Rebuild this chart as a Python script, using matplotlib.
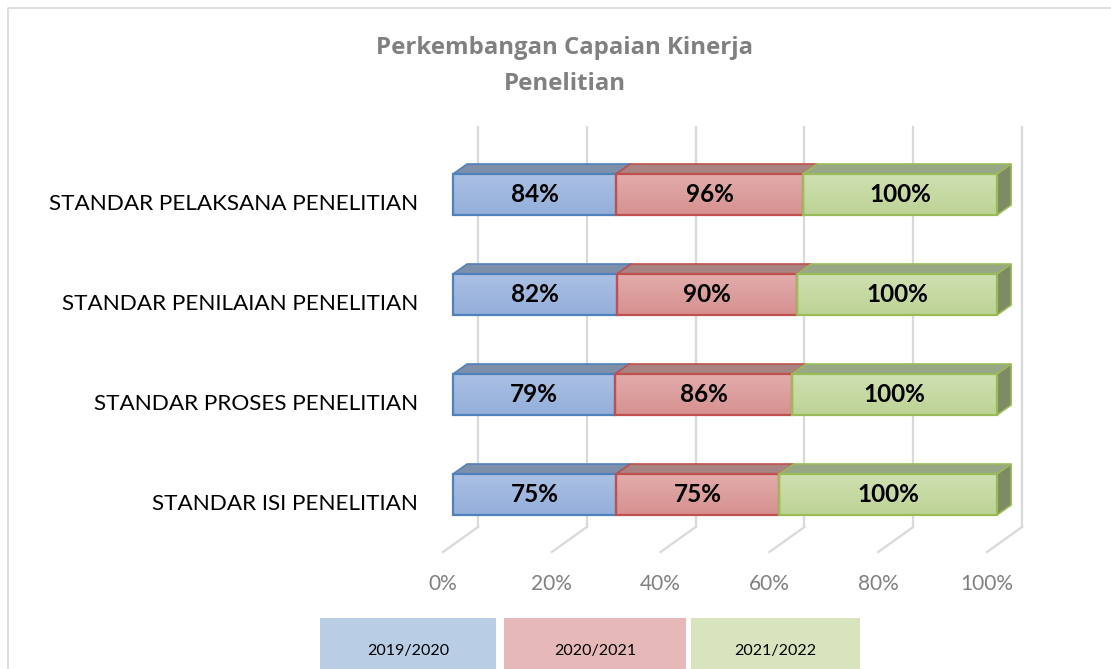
import numpy as np
import matplotlib.pyplot as plt
from matplotlib.patches import Polygon, Rectangle
from matplotlib.colors import LinearSegmentedColormap

# data (bottom row first)
categories = ["STANDAR ISI PENELITIAN", "STANDAR PROSES PENELITIAN",
              "STANDAR PENILAIAN PENELITIAN", "STANDAR PELAKSANA PENELITIAN"]
series_names = ["2019/2020", "2020/2021", "2021/2022"]
v2019 = [75, 79, 82, 84]
v2020 = [75, 86, 90, 96]
v2021 = [100, 100, 100, 100]
x_ticks = [0, 20, 40, 60, 80, 100]

# styles: front top / front bottom / edge / top face / side face / legend fill
styles = [
    ("#abc0e4", "#93afda", "#4f81bd", "#7e8fa9", "#6f7f98", "#b9cde5"),
    ("#e2acab", "#d69190", "#c0504d", "#a98282", "#957070", "#e6b9b8"),
    ("#cfe0b1", "#bdd395", "#9bbb59", "#98a786", "#7d8c64", "#d7e4bd"),
]

plt.rcParams['font.family'] = ['Lato', 'DejaVu Sans']

W, H = 1111, 669
fig = plt.figure(figsize=(W / 100, H / 100), dpi=100)
ax = fig.add_axes([0, 0, 1, 1])

# pixel -> data mapping (x: percent, y: category index)
X0, XS = 453.0, 5.44
Y0, YS = 494.5, 100.0


def px(x):
    return (x - X0) / XS


def py(y):
    return (Y0 - y) / YS


bar_h = 0.41
dx, dy = 2.6, 0.10          # bar depth
back_dx, back_y0 = 4.6, -0.325
front_dx, front_y0 = -1.84, -0.575
wall_top = 3.675
grid_col = "#d9d9d9"

# back wall gridlines and floor lines
for t in x_ticks:
    ax.plot([t + back_dx, t + back_dx], [back_y0, wall_top], color=grid_col, lw=1.6, zorder=1)
    ax.plot([t + back_dx, t + front_dx], [back_y0, front_y0], color=grid_col, lw=1.6, zorder=1)
    ax.text(t + front_dx, py(584), f"{t}%", ha='center', va='center',
            fontsize=15, color="#808080")

# stacked 100% bars
vals = np.array([v2019, v2020, v2021], dtype=float)
shares = vals / vals.sum(axis=0) * 100
grad = np.linspace(0, 1, 64).reshape(-1, 1)

for i, cat in enumerate(categories):
    yb, yt = i - bar_h / 2, i + bar_h / 2
    left = 0.0
    for s in range(3):
        w = shares[s, i]
        ftop, fbot, edge, topc, sidec, _ = styles[s]
        x0, x1 = left, left + w
        # top face
        ax.add_patch(Polygon([(x0, yt), (x1, yt), (x1 + dx, yt + dy), (x0 + dx, yt + dy)],
                             closed=True, fc=topc, ec=edge, lw=1.2, zorder=3))
        # side face
        ax.add_patch(Polygon([(x1, yb), (x1, yt), (x1 + dx, yt + dy), (x1 + dx, yb + dy)],
                             closed=True, fc=sidec, ec=edge, lw=1.2, zorder=3))
        # front face with vertical gradient
        cmap = LinearSegmentedColormap.from_list("g", [ftop, fbot])
        ax.imshow(grad, extent=[x0, x1, yb, yt], cmap=cmap, aspect='auto',
                  origin='upper', zorder=4, interpolation='bilinear')
        ax.add_patch(Rectangle((x0, yb), w, bar_h, fc='none', ec=edge, lw=1.6, zorder=5))
        ax.text((x0 + x1) / 2, i, f"{vals[s, i]:.0f}%", ha='center', va='center',
                fontsize=17.5, fontweight='bold', color='black', zorder=6)
        left = x1
    ax.text(px(418), i - 0.09, cat, ha='right', va='center', fontsize=16.2, color='black')

ax.set_xlim((0 - X0) / XS, (W - X0) / XS)
ax.set_ylim((Y0 - H) / YS, (Y0 - 0) / YS)
ax.axis('off')

# title
title_font = ['Open Sans', 'DejaVu Sans']
ax.text(px(565), py(48), "Perkembangan Capaian Kinerja", ha='center', va='center',
        fontsize=17.3, fontweight='bold', color="#808080", family=title_font)
ax.text(px(565), py(84), "Penelitian", ha='center', va='center',
        fontsize=17.3, fontweight='bold', color="#808080", family=title_font)

# legend cells
legend_boxes = [(320, 496), (504, 686), (691, 860)]
for (l, r), name, st in zip(legend_boxes, series_names, styles):
    ax.add_patch(Rectangle((px(l), py(H)), px(r) - px(l), py(618) - py(H),
                           fc=st[5], ec='none', zorder=2))
    ax.text((px(l) + px(r)) / 2, py(651), name, ha='center', va='center',
            fontsize=11.5, color='black')

# chart frame
ax.plot([px(8), px(8), px(W + 5)], [py(H + 5), py(8), py(8)], color="#d9d9d9", lw=1.2)

fig.savefig("out.png", dpi=100)
